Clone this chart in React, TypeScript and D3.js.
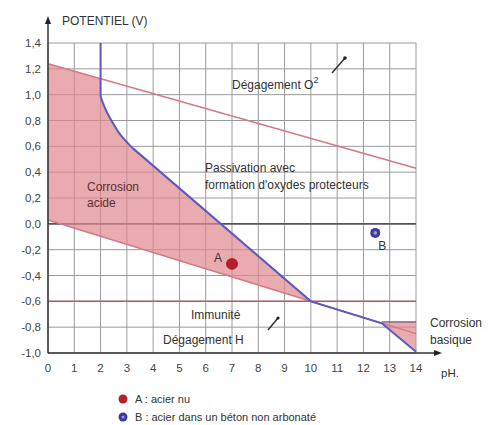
import { line, scaleLinear, format, curveMonotoneY } from "d3";

const phTicks = [0, 1, 2, 3, 4, 5, 6, 7, 8, 9, 10, 11, 12, 13, 14];
const potentialTicks = [-1.0, -0.8, -0.6, -0.4, -0.2, 0.0, 0.2, 0.4, 0.6, 0.8, 1.0, 1.2, 1.4];

// water stability lines
const oxygenLine: [number, number][] = [[0, 1.24], [14, 0.43]];
const hydrogenLine: [number, number][] = [[0, 0.03], [10, -0.6], [14, -0.85]];
const immunityLine: [number, number][] = [[0, -0.6], [14, -0.6]];

// passivation boundary (blue)
const passivationLine: [number, number][] = [
  [2, 1.4], [2, 1.0], [2.1, 0.93], [2.25, 0.86], [2.5, 0.77], [2.75, 0.69], [3.2, 0.59],
  [10, -0.6], [12.7, -0.77], [14, -0.99],
];

// filled regions
const acidCorrosion: [number, number][] = [
  [0, 1.24], [2, 1.125], [2, 1.0], [2.1, 0.93], [2.25, 0.86], [2.5, 0.77], [2.75, 0.69],
  [3.2, 0.59], [10, -0.6], [0, 0.03],
];
const basicCorrosion: [number, number][] = [[12.7, -0.77], [14, -0.76], [14, -0.99]];
const basicLimit: [number, number][] = [[12.7, -0.76], [14, -0.76]];

const samples = [
  { name: "A", ph: 7, e: -0.31, color: "#b3202c", legend: "A : acier nu" },
  { name: "B", ph: 12.45, e: -0.07, color: "#3a3aa0", legend: "B : acier dans un béton non arbonaté" },
];

const font = "'Liberation Sans', Arial, sans-serif";

export default function App() {
  const x = scaleLinear().domain([0, 14]).range([48, 416]);
  const y = scaleLinear().domain([-1.0, 1.4]).range([353, 43]);
  const path = line<[number, number]>()
    .x((d) => x(d[0]))
    .y((d) => y(d[1]));
  const fmt = (v: number) => format(".1f")(v).replace(".", ",").replace("−", "-");
  const textColor = "#333";

  return (
    <svg
      width={496}
      height={425}
      style={{ position: "absolute", left: 0, top: 0, background: "#fff" }}
      fontFamily={font}
    >
      {/* grid */}
      {phTicks.map((t) => (
        <line key={"gx" + t} x1={x(t)} x2={x(t)} y1={y(-1.0)} y2={y(1.4)} stroke="#9a9a9a" strokeWidth={1} />
      ))}
      {potentialTicks.map((t) => (
        <line
          key={"gy" + t}
          x1={x(0)}
          x2={x(14)}
          y1={y(t)}
          y2={y(t)}
          stroke={t === 0 ? "#555" : "#9a9a9a"}
          strokeWidth={t === 0 ? 1.6 : 1}
        />
      ))}

      {/* regions */}
      <path d={path(acidCorrosion) + "Z"} fill="#e0868f" fillOpacity={0.7} />
      <path d={path(basicCorrosion) + "Z"} fill="#e0868f" fillOpacity={0.7} />

      {/* lines */}
      <path d={path(oxygenLine) ?? ""} fill="none" stroke="#d27a86" strokeWidth={1.5} />
      <path d={path(hydrogenLine) ?? ""} fill="none" stroke="#d27a86" strokeWidth={1.5} />
      <path d={path(immunityLine) ?? ""} fill="none" stroke="#b85a5e" strokeWidth={1.5} />
      <path d={path(basicLimit) ?? ""} fill="none" stroke="#8a5a8a" strokeWidth={1.5} />
      <path d={path.curve(curveMonotoneY)(passivationLine.slice(0, 7)) ?? ""} fill="none" stroke="#5a5ac0" strokeWidth={2} />
      <path d={line<[number, number]>().x((d) => x(d[0])).y((d) => y(d[1]))(passivationLine.slice(6)) ?? ""} fill="none" stroke="#5a5ac0" strokeWidth={2} />

      {/* axes */}
      <line x1={x(0)} x2={x(0)} y1={y(-1.0)} y2={22} stroke="#333" strokeWidth={1.5} />
      <path d={`M${x(0)},16 L${x(0) - 3},24 L${x(0) + 3},24 Z`} fill="#222" />
      <line x1={x(0)} x2={436} y1={y(-1.0)} y2={y(-1.0)} stroke="#333" strokeWidth={1.5} />
      <path d={`M442,${y(-1.0)} L434,${y(-1.0) - 3} L434,${y(-1.0) + 3} Z`} fill="#222" />

      {potentialTicks.map((t) => (
        <text key={"ty" + t} x={41} y={y(t) + 4} textAnchor="end" fontSize={11.5} fill="#444">
          {fmt(t)}
        </text>
      ))}
      {phTicks.map((t) => (
        <text key={"tx" + t} x={x(t)} y={372} textAnchor="middle" fontSize={11.5} fill="#444">
          {t}
        </text>
      ))}
      <text x={62} y={25} fontSize={12} fill={textColor}>POTENTIEL (V)</text>
      <text x={441} y={377} fontSize={11.5} fill={textColor}>pH.</text>

      {/* annotations */}
      <text x={232} y={89} fontSize={12} fill={textColor}>
        Dégagement O<tspan dy={-6} fontSize={9}>2</tspan>
      </text>
      <line x1={332} y1={73} x2={345} y2={58} stroke="#333" strokeWidth={1.5} />
      <circle cx={345} cy={58} r={1.8} fill="#222" />
      <text x={205} y={172} fontSize={12} fill={textColor}>Passivation avec</text>
      <text x={205} y={189} fontSize={12} fill={textColor}>formation d'oxydes protecteurs</text>
      <text x={87} y={191} fontSize={12} fill="#5a3030">Corrosion</text>
      <text x={87} y={207} fontSize={12} fill="#5a3030">acide</text>
      <text x={191} y={319} fontSize={12} fill={textColor}>Immunité</text>
      <text x={163} y={344} fontSize={12} fill={textColor}>Dégagement H</text>
      <line x1={268} y1={330} x2={278} y2={318} stroke="#333" strokeWidth={1.5} />
      <circle cx={278} cy={318} r={1.6} fill="#222" />
      <text x={430} y={327} fontSize={12} fill={textColor}>Corrosion</text>
      <text x={430} y={344} fontSize={12} fill={textColor}>basique</text>

      {/* samples */}
      {samples.map((s, i) => (
        <g key={s.name}>
          <circle cx={x(s.ph)} cy={y(s.e)} r={i === 0 ? 6 : 5} fill={s.color} />
          {i === 1 && <circle cx={x(s.ph)} cy={y(s.e)} r={1.8} fill="#9a9ad8" />}
          <text
            x={i === 0 ? x(s.ph) - 18 : x(s.ph) + 3}
            y={i === 0 ? y(s.e) - 2 : y(s.e) + 17}
            fontSize={12}
            fill={textColor}
          >
            {s.name}
          </text>
        </g>
      ))}

      {/* legend */}
      {samples.map((s, i) => (
        <g key={"lg" + s.name}>
          <circle cx={123} cy={399 + i * 18} r={4.5} fill={s.color} />
          {i === 1 && <circle cx={123} cy={399 + i * 18} r={1.5} fill="#9a9ad8" />}
          <text x={135} y={403 + i * 18} fontSize={11} fill={textColor}>{s.legend}</text>
        </g>
      ))}
    </svg>
  );
}
